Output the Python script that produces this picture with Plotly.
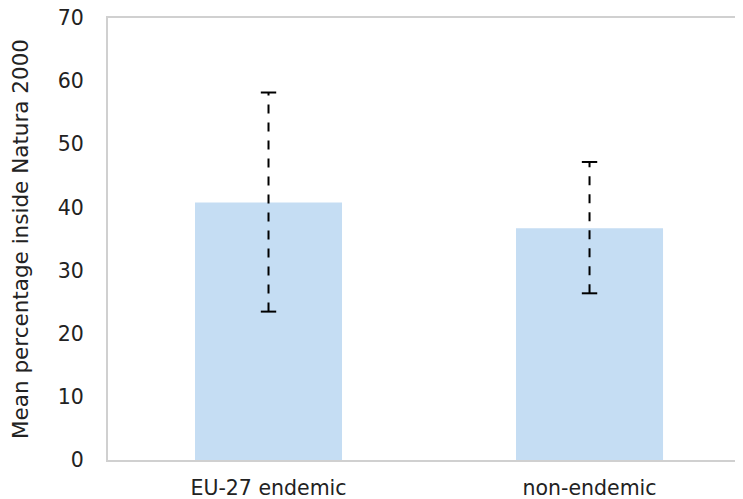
import plotly.graph_objects as go

categories = ["EU-27 endemic", "non-endemic"]
means = [40.8, 36.7]
err_low = [23.5, 26.4]
err_high = [58.2, 47.2]
y_ticks = [0, 10, 20, 30, 40, 50, 60, 70]

FONT = "DejaVu Sans"
fig = go.Figure()
fig.add_trace(go.Bar(x=[0, 1], y=means, marker=dict(color="#c5ddf3", line=dict(width=0)),
                     width=0.458, hoverinfo="skip"))
for i in range(len(categories)):
    fig.add_trace(go.Scatter(x=[i, i], y=[err_low[i], err_high[i]], mode="lines",
                             line=dict(color="black", width=2, dash="9px,9px"),
                             hoverinfo="skip"))
    fig.add_trace(go.Scatter(x=[i, i], y=[err_low[i], err_high[i]], mode="markers",
                             marker=dict(symbol="line-ew", size=11,
                                         line=dict(color="black", width=2)),
                             hoverinfo="skip"))

fig.update_layout(
    width=743, height=499,
    margin=dict(l=100, r=0, t=10, b=47, pad=0),
    paper_bgcolor="white", plot_bgcolor="white",
    showlegend=False,
    font=dict(family=FONT, size=20.5, color="#222222"),
    xaxis=dict(range=[-0.5, 1.503], tickvals=[0, 1], ticktext=categories,
               showgrid=False, zeroline=False, showline=True, mirror=True,
               linecolor="#d0d0d0", linewidth=2, ticks="", ticklabelstandoff=8,
               automargin=False, ticklabeloverflow="allow", tickfont=dict(size=20.5)),
    yaxis=dict(range=[0, 70], tickvals=y_ticks, showgrid=False, zeroline=False,
               showline=True, linecolor="#d0d0d0", linewidth=2, ticks="",
               ticklabelstandoff=18, tickfont=dict(size=20.5), automargin=False,
               ticklabeloverflow="allow",
               title=dict(text="Mean percentage inside Natura 2000", font=dict(size=21.5),
                          standoff=26)),
)
fig.write_html("out.html")
